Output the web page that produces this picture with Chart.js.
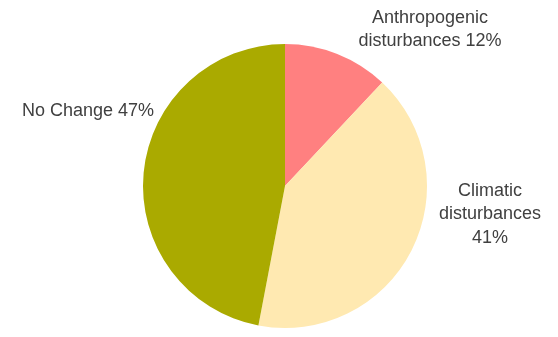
<!DOCTYPE html>
<html>
<head>
<meta charset="utf-8">
<script src="https://cdn.jsdelivr.net/npm/chart.js@4"></script>
<style>
  html, body { margin: 0; padding: 0; background: #fff; }
  #wrap { width: 558px; height: 337px; }
</style>
</head>
<body>
<div id="wrap"><canvas id="pie"></canvas></div>
<script>
// Data
const categories = ['Anthropogenic disturbances', 'Climatic disturbances', 'No Change'];
const shares = [12, 41, 47];
const sliceColors = ['#FF8080', '#FFE9B1', '#AAAA00'];

// label lines and their centre offsets from the pie centre
const labelLines = [
  ['Anthropogenic', 'disturbances 12%'],
  ['Climatic', 'disturbances', '41%'],
  ['No Change 47%']
];
const labelOffsets = [[145, -168], [205, 5], [-197, -75]];

const outsideLabels = {
  id: 'outsideLabels',
  afterDatasetsDraw(chart) {
    const ctx = chart.ctx;
    const arc = chart.getDatasetMeta(0).data[0];
    ctx.save();
    ctx.font = '18px "Liberation Sans", Arial, sans-serif';
    ctx.fillStyle = '#404040';
    ctx.textAlign = 'center';
    ctx.textBaseline = 'middle';
    labelLines.forEach((lines, i) => {
      const [dx, dy] = labelOffsets[i];
      lines.forEach((txt, j) => {
        ctx.fillText(txt, arc.x + dx, arc.y + dy + j * 23.3);
      });
    });
    ctx.restore();
  }
};

new Chart(document.getElementById('pie'), {
  type: 'pie',
  data: {
    labels: categories,
    datasets: [{
      data: shares,
      backgroundColor: sliceColors,
      borderWidth: 0
    }]
  },
  options: {
    responsive: true,
    maintainAspectRatio: false,
    animation: false,
    layout: { padding: { top: 44, bottom: 9, left: 12, right: 0 } },
    plugins: {
      legend: { display: false },
      tooltip: { enabled: false }
    }
  },
  plugins: [outsideLabels]
});
</script>
</body>
</html>
